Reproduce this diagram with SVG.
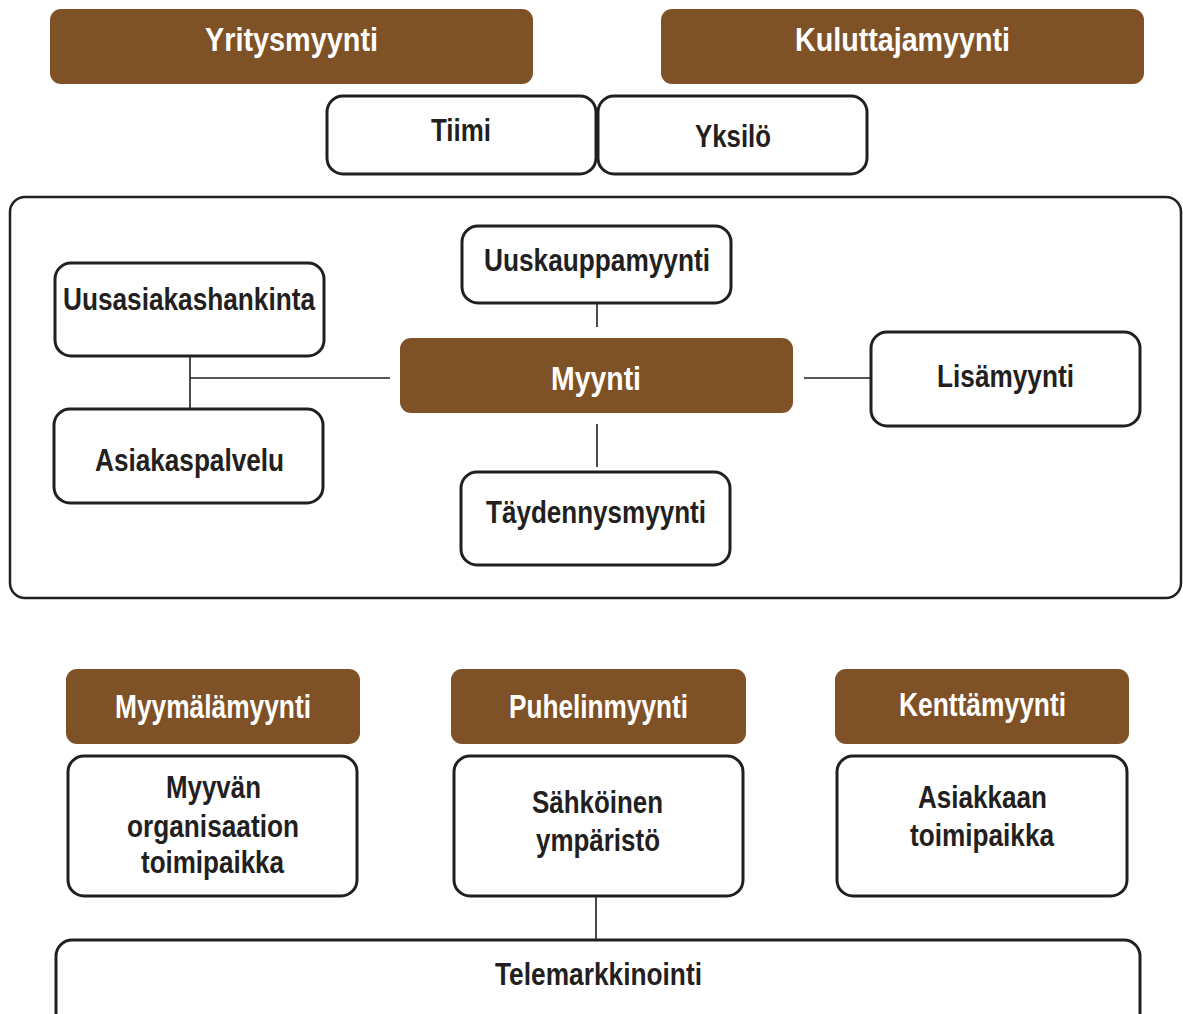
<svg xmlns="http://www.w3.org/2000/svg" width="1183" height="1014" viewBox="0 0 1183 1014">
  <style>
    .head { fill: #7f5126; }
    .box { fill: #ffffff; stroke: #231f20; stroke-width: 3; }
    .frame { fill: none; stroke: #231f20; stroke-width: 2.5; }
    .link { stroke: #231f20; stroke-width: 1.6; fill: none; }
    text { font-family: "Liberation Sans Narrow", "Liberation Sans", Arial, sans-serif; font-weight: bold; text-anchor: middle; }
    .w { fill: #ffffff; font-size: 34px; }
    .k { fill: #231f20; font-size: 31px; }
  </style>

  <rect x="0" y="0" width="1183" height="1014" fill="#ffffff"/>

  <!-- sales segments -->
  <g id="yritysmyynti">
    <rect class="head" x="50" y="9" width="483" height="75" rx="11"/>
    <text class="w" x="291.5" y="51" textLength="173" lengthAdjust="spacingAndGlyphs">Yritysmyynti</text>
  </g>
  <g id="kuluttajamyynti">
    <rect class="head" x="661" y="9" width="483" height="75" rx="11"/>
    <text class="w" x="902.5" y="51" textLength="215" lengthAdjust="spacingAndGlyphs">Kuluttajamyynti</text>
  </g>
  <g id="tiimi">
    <rect class="box" x="327" y="96" width="269" height="78" rx="16"/>
    <text class="k" x="461" y="141" textLength="60" lengthAdjust="spacingAndGlyphs">Tiimi</text>
  </g>
  <g id="yksilo">
    <rect class="box" x="598" y="96" width="269" height="78" rx="16"/>
    <text class="k" x="733" y="147" textLength="76" lengthAdjust="spacingAndGlyphs">Yksilö</text>
  </g>

  <!-- sales tasks -->
  <g id="tehtavat">
    <rect class="frame" x="10" y="197" width="1171" height="401" rx="15"/>
  </g>

  <!-- connectors -->
  <g id="connectors">
    <line class="link" x1="597" y1="303" x2="597" y2="327"/>
    <line class="link" x1="597" y1="424" x2="597" y2="467"/>
    <line class="link" x1="190" y1="378" x2="390" y2="378"/>
    <line class="link" x1="190" y1="356" x2="190" y2="409"/>
    <line class="link" x1="804" y1="378" x2="871" y2="378"/>
    <line class="link" x1="596" y1="896" x2="596" y2="940"/>
  </g>

  <g id="uuskauppamyynti">
    <rect class="box" x="462" y="226" width="269" height="77" rx="16"/>
    <text class="k" x="597" y="271" textLength="226" lengthAdjust="spacingAndGlyphs">Uuskauppamyynti</text>
  </g>
  <g id="uusasiakashankinta">
    <rect class="box" x="55" y="263" width="269" height="93" rx="16"/>
    <text class="k" x="189" y="310" textLength="252" lengthAdjust="spacingAndGlyphs">Uusasiakashankinta</text>
  </g>
  <g id="myynti">
    <rect class="head" x="400" y="338" width="393" height="75" rx="11"/>
    <text class="w" x="596" y="390" textLength="90" lengthAdjust="spacingAndGlyphs">Myynti</text>
  </g>
  <g id="lisamyynti">
    <rect class="box" x="871" y="332" width="269" height="94" rx="16"/>
    <text class="k" x="1005.5" y="387" textLength="137" lengthAdjust="spacingAndGlyphs">Lisämyynti</text>
  </g>
  <g id="asiakaspalvelu">
    <rect class="box" x="54" y="409" width="269" height="94" rx="16"/>
    <text class="k" x="189.5" y="471" textLength="189" lengthAdjust="spacingAndGlyphs">Asiakaspalvelu</text>
  </g>
  <g id="taydennysmyynti">
    <rect class="box" x="461" y="472" width="269" height="93" rx="16"/>
    <text class="k" x="596" y="523" textLength="220" lengthAdjust="spacingAndGlyphs">Täydennysmyynti</text>
  </g>

  <!-- sales channels -->
  <g id="myymalamyynti">
    <rect class="head" x="66" y="669" width="294" height="75" rx="11"/>
    <text class="w" x="213" y="718" textLength="196" lengthAdjust="spacingAndGlyphs">Myymälämyynti</text>
  </g>
  <g id="puhelinmyynti">
    <rect class="head" x="451" y="669" width="295" height="75" rx="11"/>
    <text class="w" x="598.5" y="718" textLength="179" lengthAdjust="spacingAndGlyphs">Puhelinmyynti</text>
  </g>
  <g id="kenttamyynti">
    <rect class="head" x="835" y="669" width="294" height="75" rx="11"/>
    <text class="w" x="982.5" y="716" textLength="167" lengthAdjust="spacingAndGlyphs">Kenttämyynti</text>
  </g>
  <g id="myyvan-toimipaikka">
    <rect class="box" x="68" y="756" width="289" height="140" rx="16"/>
    <text class="k" x="213.5" y="798" textLength="95" lengthAdjust="spacingAndGlyphs">Myyvän</text>
    <text class="k" x="213" y="837" textLength="172" lengthAdjust="spacingAndGlyphs">organisaation</text>
    <text class="k" x="212.5" y="873" textLength="143" lengthAdjust="spacingAndGlyphs">toimipaikka</text>
  </g>
  <g id="sahkoinen-ymparisto">
    <rect class="box" x="454" y="756" width="289" height="140" rx="16"/>
    <text class="k" x="597.5" y="813" textLength="131" lengthAdjust="spacingAndGlyphs">Sähköinen</text>
    <text class="k" x="598" y="851" textLength="124" lengthAdjust="spacingAndGlyphs">ympäristö</text>
  </g>
  <g id="asiakkaan-toimipaikka">
    <rect class="box" x="837" y="756" width="290" height="140" rx="16"/>
    <text class="k" x="982.5" y="808" textLength="129" lengthAdjust="spacingAndGlyphs">Asiakkaan</text>
    <text class="k" x="982" y="846" textLength="144" lengthAdjust="spacingAndGlyphs">toimipaikka</text>
  </g>
  <g id="telemarkkinointi">
    <rect class="box" x="56" y="940" width="1084" height="95" rx="16"/>
    <text class="k" x="598.5" y="985" textLength="207" lengthAdjust="spacingAndGlyphs">Telemarkkinointi</text>
  </g>
</svg>
